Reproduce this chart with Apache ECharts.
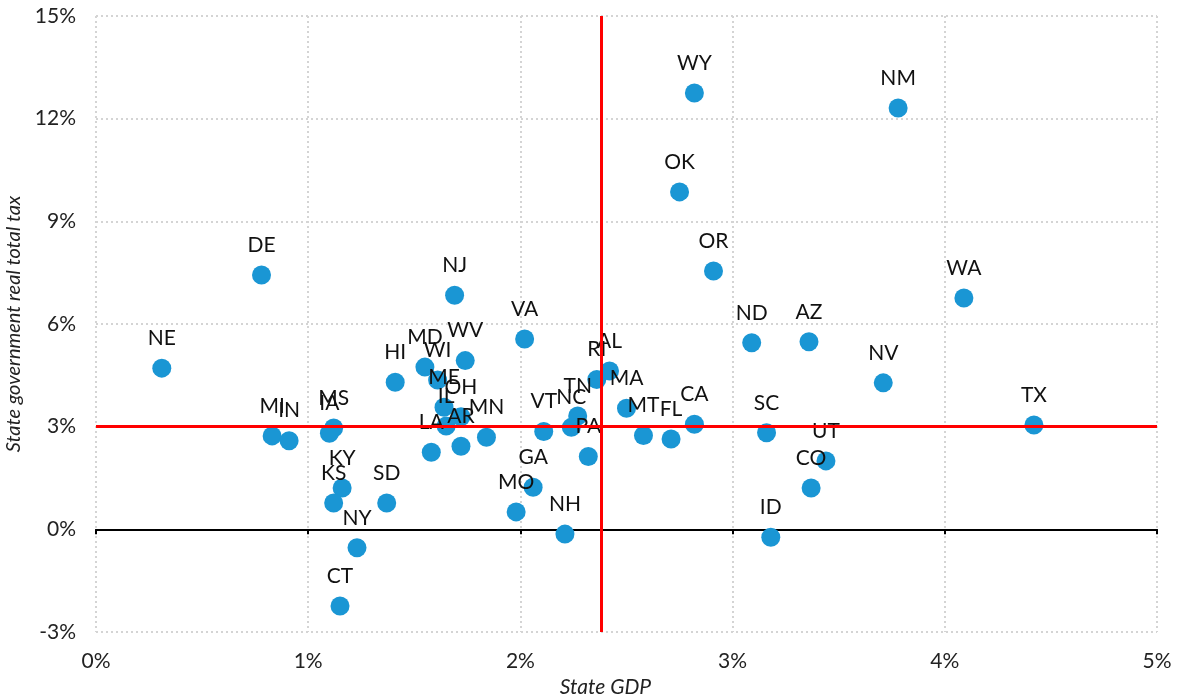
<!DOCTYPE html>
<html>
<head>
<meta charset="utf-8">
<script src="https://cdn.jsdelivr.net/npm/echarts@6/dist/echarts.min.js"></script>
<style>
  html, body { margin: 0; padding: 0; background: #fff; }
  #chart { width: 1177px; height: 700px; }
</style>
</head>
<body>
<div id="chart"></div>
<script>
// state codes, GDP growth (%), real total tax growth (%)
var states = ['NE', 'DE', 'MI', 'IN', 'MS', 'IA', 'KY', 'KS', 'SD', 'NY', 'CT',
  'HI', 'MD', 'WI', 'ME', 'OH', 'IL', 'LA', 'AR', 'MN', 'WV', 'NJ', 'VA',
  'VT', 'NC', 'TN', 'RI', 'AL', 'PA', 'MA', 'MT', 'FL', 'CA', 'GA', 'MO', 'NH',
  'WY', 'OK', 'OR', 'NM', 'ND', 'AZ', 'NV', 'WA', 'TX', 'SC', 'UT', 'CO', 'ID'];
var gdp = [0.31, 0.78, 0.83, 0.91, 1.12, 1.10, 1.16, 1.12, 1.37, 1.23, 1.15,
  1.41, 1.55, 1.61, 1.64, 1.72, 1.65, 1.58, 1.72, 1.84, 1.74, 1.69, 2.02,
  2.11, 2.24, 2.27, 2.36, 2.42, 2.32, 2.50, 2.58, 2.71, 2.82, 2.06, 1.98, 2.21,
  2.82, 2.75, 2.91, 3.78, 3.09, 3.36, 3.71, 4.09, 4.42, 3.16, 3.44, 3.37, 3.18];
var tax = [4.71, 7.43, 2.73, 2.59, 2.96, 2.81, 1.21, 0.77, 0.77, -0.54, -2.24,
  4.30, 4.74, 4.36, 3.57, 3.29, 3.02, 2.25, 2.43, 2.69, 4.93, 6.84, 5.56,
  2.86, 2.98, 3.31, 4.38, 4.63, 2.13, 3.54, 2.74, 2.64, 3.07, 1.23, 0.51, -0.14,
  12.75, 9.86, 7.55, 12.31, 5.45, 5.48, 4.28, 6.76, 3.05, 2.82, 2.00, 1.21, -0.23];
var gdpMean = 2.38;
var taxMean = 3.0;
var xTicks = [0, 1, 2, 3, 4, 5];
var yTicks = [-3, 0, 3, 6, 9, 12, 15];

var points = [];
for (var i = 0; i < states.length; i++) {
  points.push([gdp[i], tax[i], states[i]]);
}

var font = 'Lato, "Open Sans", sans-serif';
var chart = echarts.init(document.getElementById('chart'));

var option = {
  animation: false,
  grid: { left: 96, right: 20, top: 16, bottom: 68, outerBoundsMode: 'none' },
  xAxis: [
    {
      type: 'value',
      min: xTicks[0],
      max: xTicks[xTicks.length - 1],
      interval: 1,
      position: 'bottom',
      name: 'State GDP',
      nameLocation: 'middle',
      nameGap: 44,
      nameTextStyle: { fontFamily: font, fontStyle: 'italic', fontSize: 21, color: '#222', padding: [0, 42, 0, 0] },
      axisLine: { show: false, onZero: false },
      axisTick: { show: false },
      axisLabel: {
        margin: 19, fontFamily: font, fontSize: 21, color: '#222',
        formatter: function (v) { return v + '%'; }
      },
      splitLine: { show: true, lineStyle: { color: '#d4d4d4', width: 2, type: [2, 3] } }
    },
    {
      type: 'value',
      min: xTicks[0],
      max: xTicks[xTicks.length - 1],
      interval: 1,
      position: 'bottom',
      axisLine: { show: true, onZero: true, lineStyle: { color: '#000', width: 2 } },
      axisTick: { show: true, length: 5, lineStyle: { color: '#000', width: 2 } },
      axisLabel: { show: false },
      splitLine: { show: false }
    }
  ],
  yAxis: {
    type: 'value',
    min: yTicks[0],
    max: yTicks[yTicks.length - 1],
    interval: 3,
    name: 'State government real total tax',
    nameLocation: 'middle',
    nameGap: 68,
    nameTextStyle: { fontFamily: font, fontStyle: 'italic', fontSize: 20, color: '#222' },
    axisLine: { show: false },
    axisTick: { show: false },
    axisLabel: {
      margin: 20, fontFamily: font, fontSize: 21, color: '#222',
      formatter: function (v) { return v + '%'; }
    },
    splitLine: { show: true, lineStyle: { color: '#d4d4d4', width: 2, type: [2, 3] } }
  },
  series: [
    {
      type: 'scatter',
      xAxisIndex: 0,
      data: points,
      symbolSize: 19,
      itemStyle: { color: '#1a96d4', opacity: 1 },
      label: {
        show: true,
        position: 'top',
        distance: 10,
        fontFamily: font,
        fontSize: 21,
        color: '#111',
        formatter: function (p) { return p.data[2]; }
      },
      markLine: {
        silent: true,
        symbol: 'none',
        label: { show: false },
        lineStyle: { color: '#ff0000', width: 3, type: 'solid' },
        data: [
          { xAxis: gdpMean },
          { yAxis: taxMean }
        ]
      },
      z: 3
    }
  ]
};

chart.setOption(option);
</script>
</body>
</html>
